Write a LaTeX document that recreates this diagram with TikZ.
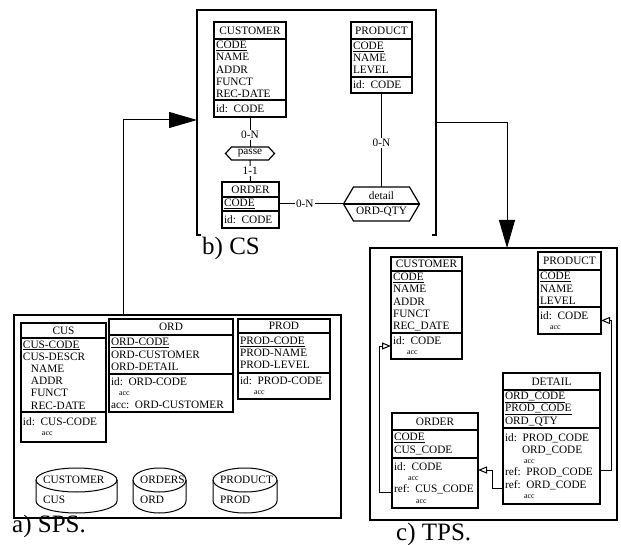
\documentclass[tikz,border=0pt]{standalone}
\usepackage{fontspec}
\setmainfont{Liberation Serif}
\usetikzlibrary{positioning,arrows.meta}

\newcommand\entf{\fontsize{11.3}{12.2}\selectfont}
\newcommand\accf{\fontsize{8}{9}\selectfont}
\newcommand\capf{\fontsize{25}{28}\selectfont}

\tikzset{
  ent/.style={draw,line width=1.2pt,outer sep=0pt,inner xsep=2pt,inner ysep=.5pt,
    minimum width=#1,text width={#1-4},font=\entf,align=left},
  ettl/.style={ent=#1,align=center},
  panel/.style={draw,line width=2pt,outer sep=0pt,inner sep=0pt},
  rel/.style={inner sep=0pt,outer sep=0pt,font=\entf,align=center},
  rshape/.style={line width=1.2pt},
  lbl/.style={fill=white,inner sep=1pt,font=\entf},
  link/.style={line width=1pt},
  flow/.style={line width=1pt,-{Triangle[length=28pt,width=16pt]}},
  refl/.style={line width=1pt,-{Triangle[open,length=9pt,width=7pt]}},
  dbf/.style={line width=1pt},
  dbt/.style={anchor=west,inner sep=0pt,font=\entf},
  pcap/.style={anchor=base west,inner sep=0pt,font=\capf}
}

\begin{document}
\begin{tikzpicture}[x=1pt,y=-1pt]
  \useasboundingbox (0,0) rectangle (621,545);

  % panels
  \node[minimum width=239,minimum height=225,inner sep=0pt,outer sep=0pt] (cs) at (316.5,122.5) {};
  \draw[line width=2pt] ([xshift=4pt]cs.south west) -- (cs.south west) -- (cs.north west)
    -- (cs.north east) -- (cs.south east) -- ++(-4,0);
  \node[panel,minimum width=327,minimum height=203] (sps) at (177.5,416.5) {};
  \node[panel,minimum width=247,minimum height=272] (tps) at (493.5,384) {};

  \node[pcap] (lCs) at (202,255) {b) CS};
  \node[pcap] (lSps) at (12,532) {a) SPS.};
  \node[pcap] (lTps) at (396,540) {c) TPS.};

  % b) CS
  \node[ettl=72,minimum height=17,anchor=north west] (cCus-t) at (214,22) {CUSTOMER};
  \node[ent=72,minimum height=61,below=0pt of cCus-t] (cCus-a) {\underline{CODE}\\NAME\\ADDR\\FUNCT\\REC-DATE};
  \node[ent=72,minimum height=17,below=0pt of cCus-a] (cCus-i) {id:\enskip CODE};

  \node[ettl=61,minimum height=17,anchor=north west] (cProd-t) at (351,22) {PRODUCT};
  \node[ent=61,minimum height=38,below=0pt of cProd-t] (cProd-a) {\underline{CODE}\\NAME\\LEVEL};
  \node[ent=61,minimum height=16,below=0pt of cProd-a] (cProd-i) {id:\enskip CODE};

  \node[ettl=57,minimum height=15,anchor=north west] (cOrd-t) at (222,182) {ORDER};
  \node[ent=57,minimum height=14,below=0pt of cOrd-t] (cOrd-a) {\underline{CODE}};
  \node[ent=57,minimum height=17,below=0pt of cOrd-a] (cOrd-i) {id:\enskip CODE};

  \node[rel,minimum width=49,minimum height=13] (passe) at (250,153.5) {passe};
  \draw[rshape] ([xshift=6pt]passe.north west) -- ([xshift=-6pt]passe.north east) -- (passe.east)
    -- ([xshift=-6pt]passe.south east) -- ([xshift=6pt]passe.south west) -- (passe.west) -- cycle;
  \node[rel,minimum width=76,minimum height=34] (detail) at (381.5,204) {detail\\[2pt]ORD-QTY};
  \draw[rshape] ([xshift=10pt]detail.north west) -- ([xshift=-10pt]detail.north east) -- (detail.east)
    -- ([xshift=-10pt]detail.south east) -- ([xshift=10pt]detail.south west) -- (detail.west) -- cycle;
  \draw[rshape] (detail.west) -- (detail.east);

  \draw[link] (cCus-i) -- node[lbl,pos=.6] {0-N} (passe);
  \draw[link] (passe) -- node[lbl] {1-1} (cOrd-t);
  \draw[link] (cOrd-a) -- node[lbl,pos=.4] {0-N} (detail);
  \draw[link] (cProd-i) -- node[lbl,pos=.53] {0-N} (detail);

  % a) SPS
  \node[ettl=85,minimum height=15,anchor=north west] (sCus-t) at (21,323) {CUS};
  \node[ent=85,minimum height=74,below=0pt of sCus-t] (sCus-a) {\underline{CUS-CODE}\\CUS-DESCR\\\hspace*{8pt}NAME\\\hspace*{8pt}ADDR\\\hspace*{8pt}FUNCT\\\hspace*{8pt}REC-DATE};
  \node[ent=85,minimum height=30,below=0pt of sCus-a] (sCus-i) {id:\enskip CUS-CODE\\[-2pt]\hspace*{19pt}{\accf acc}};

  \node[ettl=124,minimum height=16,anchor=north west] (sOrd-t) at (109,319) {ORD};
  \node[ent=124,minimum height=39,below=0pt of sOrd-t] (sOrd-a) {\underline{ORD-CODE}\\ORD-CUSTOMER\\ORD-DETAIL};
  \node[ent=124,minimum height=38,below=0pt of sOrd-a] (sOrd-i) {id:\enskip ORD-CODE\\[-2pt]\hspace*{8pt}{\accf acc}\\acc:\enskip ORD-CUSTOMER};

  \node[ettl=92,minimum height=14,anchor=north west] (sProd-t) at (238,319) {PROD};
  \node[ent=92,minimum height=40,below=0pt of sProd-t] (sProd-a) {\underline{PROD-CODE}\\PROD-NAME\\PROD-LEVEL};
  \node[ent=92,minimum height=26,below=0pt of sProd-a] (sProd-i) {id:\enskip PROD-CODE\\[-2pt]\hspace*{14pt}{\accf acc}};

  \foreach \nm/\xa/\xb/\up/\dn in {fCus/36/117/CUSTOMER/CUS,fOrd/133/186/ORDERS/ORD,fProd/213/277/PRODUCT/PROD}{
    \pgfmathsetmacro\xc{(\xa+\xb)/2}
    \pgfmathsetmacro\rx{(\xb-\xa)/2}
    \draw[dbf] (\xa,480) -- (\xa,501) arc[start angle=180,end angle=0,x radius=\rx,y radius=12] -- (\xb,480);
    \draw[dbf] (\xc,480) ellipse [x radius=\rx,y radius=12];
    \node[dbt] (\nm-u) at (\xa+7,480) {\up};
    \node[dbt] (\nm-d) at (\xa+7,500) {\dn};
  }

  % c) TPS
  \node[ettl=71,minimum height=14,anchor=north west] (tCus-t) at (391,257) {CUSTOMER};
  \node[ent=71,minimum height=62,below=0pt of tCus-t] (tCus-a) {\underline{CODE}\\NAME\\ADDR\\FUNCT\\REC\_DATE};
  \node[ent=71,minimum height=26,below=0pt of tCus-a] (tCus-i) {id:\enskip CODE\\[-2pt]\hspace*{14pt}{\accf acc}};

  \node[ettl=63,minimum height=18,anchor=north west] (tProd-t) at (538,252) {PRODUCT};
  \node[ent=63,minimum height=37,below=0pt of tProd-t] (tProd-a) {\underline{CODE}\\NAME\\LEVEL};
  \node[ent=63,minimum height=27,below=0pt of tProd-a] (tProd-i) {id:\enskip CODE\\[-2pt]\hspace*{10pt}{\accf acc}};

  \node[ettl=97,minimum height=17,anchor=north west] (tDet-t) at (503,373) {DETAIL};
  \node[ent=97,minimum height=38,below=0pt of tDet-t] (tDet-a) {\underline{ORD\_CODE}\\\underline{PROD\_CODE}\\ORD\_QTY};
  \node[ent=97,minimum height=76,below=0pt of tDet-a] (tDet-i) {id:\enskip PROD\_CODE\\\hspace*{17pt}ORD\_CODE\\[-2pt]\hspace*{19pt}{\accf acc}\\ref:\enskip PROD\_CODE\\ref:\enskip ORD\_CODE\\[-2pt]\hspace*{19pt}{\accf acc}};

  \node[ettl=86,minimum height=17,anchor=north west] (tOrd-t) at (392,413) {ORDER};
  \node[ent=86,minimum height=28,below=0pt of tOrd-t] (tOrd-a) {\underline{CODE}\\CUS\_CODE};
  \node[ent=86,minimum height=50,below=0pt of tOrd-a] (tOrd-i) {id:\enskip CODE\\[-2pt]\hspace*{14pt}{\accf acc}\\ref:\enskip CUS\_CODE\\[-2pt]\hspace*{22pt}{\accf acc}};

  \draw[refl] ([yshift=16pt]tOrd-i.south west) -- ++(-13,0) |- (tCus-i.west);
  \draw[refl] ([yshift=34pt]tDet-i.south east) -- ++(11,0) |- (tProd-i.east);
  \draw[refl] ([yshift=16pt]tDet-i.south west) -- ++(-11,0) |- ([yshift=-12pt]tOrd-i.north east);

  % transformations
  \draw[flow] (sps.north -| 123,0) |- (cs.west |- 0,120);
  \draw[flow] (cs.east) -| (tps.north -| 507,0);
\end{tikzpicture}
\end{document}
